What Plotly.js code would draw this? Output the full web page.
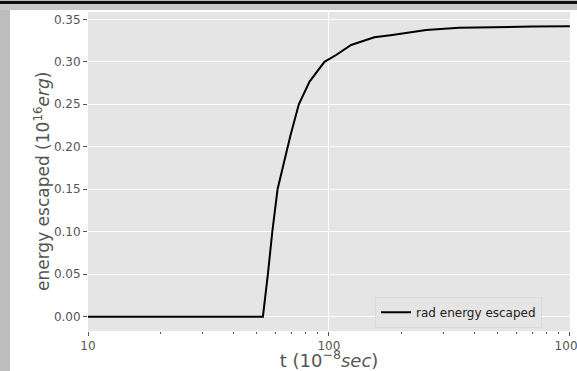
<!DOCTYPE html>
<html>
<head>
<meta charset="utf-8">
<script src="https://cdn.plot.ly/plotly-3.0.1.min.js"></script>
<style>
html,body{margin:0;padding:0;width:577px;height:371px;overflow:hidden;background:#bdbdbd;}
#topline{position:absolute;left:0;top:1px;width:577px;height:3px;background:#111;}
#topband{position:absolute;left:0;top:4px;width:577px;height:6px;background:#c8c8c8;}
#plot{position:absolute;left:10px;top:10px;width:567px;height:361px;background:#fff;}
</style>
</head>
<body>
<div id="topline"></div>
<div id="topband"></div>
<div id="plot"></div>
<script>
const tValues = [10, 53.2, 55.8, 58.2, 61.2, 67.3, 69.3, 75.0, 83.1, 95.8, 107.1, 123.6, 133.8, 154.3, 183.2, 253.3, 347.0, 475.3, 700, 1000];
const energyValues = [0, 0, 0.05, 0.10, 0.15, 0.20, 0.2139, 0.25, 0.2767, 0.30, 0.308, 0.3198, 0.323, 0.3288, 0.3315, 0.3374, 0.3401, 0.341, 0.3415, 0.3418];
const seriesName = "rad energy escaped";
const xMajorTicks = [10, 100, 1000];
const xMinorTicks = [20,30,40,50,60,70,80,90,200,300,400,500,600,700,800,900];
const yTicks = [0, 0.05, 0.10, 0.15, 0.20, 0.25, 0.30, 0.35];
const yTickLabels = ["0.00","0.05","0.10","0.15","0.20","0.25","0.30","0.35"];
const xTitle = "t (10<sup>\u22128</sup><i>sec</i>)";
const yTitle = "energy escaped (10<sup>16</sup><i>erg</i>)";

const trace = {
  x: tValues, y: energyValues, type: "scatter", mode: "lines",
  name: seriesName, line: {color: "#000", width: 2}, showlegend: true
};
const layout = {
  width: 567, height: 361,
  margin: {l: 78, r: 7, t: 2, b: 40},
  paper_bgcolor: "#ffffff", plot_bgcolor: "#e5e5e5",
  font: {family: "DejaVu Sans", color: "#555"},
  xaxis: {
    type: "log", range: [1, 3.0005],
    tickvals: xMajorTicks, ticktext: xMajorTicks.map(String),
    ticks: "outside", ticklen: 4, tickcolor: "#555", tickwidth: 1,
    tickfont: {size: 12, color: "#555"}, ticklabeloverflow: "allow",
    showgrid: true, gridcolor: "#ffffff", gridwidth: 1,
    zeroline: false, showline: false,
    minor: {tickvals: xMinorTicks, ticks: "outside", ticklen: 2, tickcolor: "#555", showgrid: false},
    title: {text: xTitle, font: {size: 18, color: "#555"}, standoff: 5}
  },
  yaxis: {
    range: [-0.0168, 0.3586],
    tickvals: yTicks, ticktext: yTickLabels,
    ticks: "outside", ticklen: 4, tickcolor: "#555", tickwidth: 1,
    tickfont: {size: 12, color: "#555"},
    showgrid: true, gridcolor: "#ffffff", gridwidth: 1,
    zeroline: false, showline: false
  },
  annotations: [{
    text: yTitle, xref: "paper", yref: "paper", x: -0.0954, y: 0.467,
    xanchor: "center", yanchor: "middle", textangle: -90, showarrow: false,
    font: {size: 17, color: "#555"}
  }],
  legend: {
    x: 0.942, y: 0.01, xanchor: "right", yanchor: "bottom",
    bgcolor: "#e5e5e5", bordercolor: "#dadada", borderwidth: 1,
    font: {size: 12, color: "#222"}, itemwidth: 30, tracegroupgap: 0
  }
};
Plotly.newPlot("plot", [trace], layout, {displayModeBar: false, staticPlot: true});
</script>
</body>
</html>
